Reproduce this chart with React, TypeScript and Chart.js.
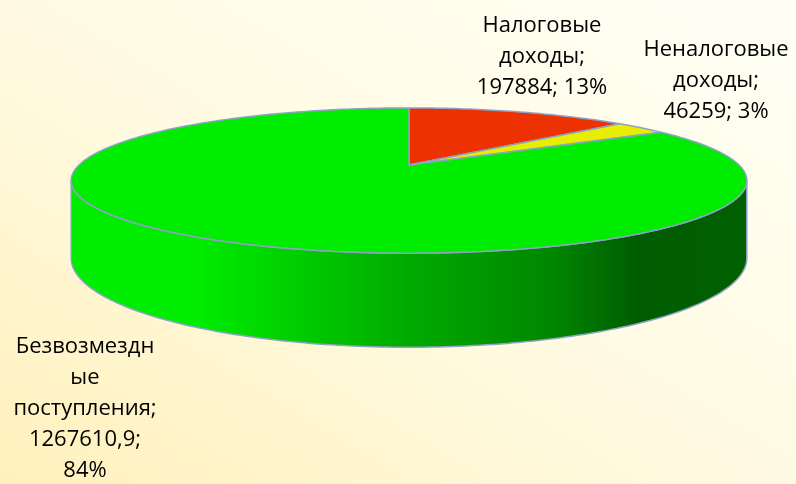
import React, { useEffect, useRef } from "react";
import { Chart, registerables } from "chart.js";

Chart.register(...registerables);

// ---------- data ----------
const categories = ["Налоговые доходы", "Неналоговые доходы", "Безвозмездные поступления"];
const categoryLines = [
  ["Налоговые", "доходы"],
  ["Неналоговые", "доходы"],
  ["Безвозмездн", "ые", "поступления"],
];
const values = [197884, 46259, 1267610.9];

// ---------- style ----------
const sliceColors = ["#EE3100", "#E8EE00", "#00EC00"];
const BORDER = "#8EA2C6";
const FONT = '22px "Open Sans"';
const LINE_H = 31;
const LABEL_MAX_W = 150;
const labelAnchors = [
  { x: 542, y: 32 },
  { x: 716, y: 56 },
  { x: 85, y: 353 },
];
const TILT = 0.21; // vertical squash of the top face
const PERSP = -0.214; // perspective strength (far side smaller)
const DEPTH = 0.224; // thickness relative to radius
const sideShade = [
  [0, 1],
  [0.19, 1],
  [0.5, 0.72],
  [0.71, 0.57],
  [0.84, 0.39],
  [1, 0.41],
];

function hexToRgb(h: string) {
  const n = parseInt(h.slice(1), 16);
  return [(n >> 16) & 255, (n >> 8) & 255, n & 255];
}

const pie3d = {
  id: "pie3d",
  beforeDatasetsDraw(chart: any) {
    const ctx: CanvasRenderingContext2D = chart.ctx;
    const meta = chart.getDatasetMeta(0);
    const arcs = meta.data;
    if (!arcs.length) return false;
    const cx = arcs[0].x;
    const cy = arcs[0].y;
    const R = arcs[0].outerRadius;
    const proj = (a: number, down: number) => {
      const u = Math.cos(a);
      const v = Math.sin(a);
      const w = 1 + PERSP * v;
      return { x: cx + (R * u) / w, y: cy + (R * TILT * v + down * R * DEPTH) / w };
    };
    const aR = Math.asin(-PERSP);
    const aL = Math.PI - aR;
    const colors = chart.data.datasets[0].backgroundColor;
    ctx.save();
    ctx.lineJoin = "round";
    ctx.lineWidth = 1.5;
    ctx.strokeStyle = BORDER;
    // side walls
    const xl = proj(aL, 0).x;
    const xr = proj(aR, 0).x;
    arcs.forEach((arc: any, i: number) => {
      const s = Math.max(arc.startAngle, aR);
      const e = Math.min(arc.endAngle, aL);
      if (e <= s) return;
      const [r, g, b] = hexToRgb(colors[i]);
      const grad = ctx.createLinearGradient(xl, 0, xr, 0);
      sideShade.forEach(([t, f]) =>
        grad.addColorStop(t, `rgb(${Math.round(r * f)},${Math.round(g * f)},${Math.round(b * f)})`)
      );
      const N = 160;
      ctx.beginPath();
      for (let k = 0; k <= N; k++) {
        const p = proj(s + ((e - s) * k) / N, 0);
        k ? ctx.lineTo(p.x, p.y) : ctx.moveTo(p.x, p.y);
      }
      for (let k = N; k >= 0; k--) {
        const p = proj(s + ((e - s) * k) / N, 1);
        ctx.lineTo(p.x, p.y);
      }
      ctx.closePath();
      ctx.fillStyle = grad;
      ctx.fill();
      ctx.stroke();
    });
    // top faces
    arcs.forEach((arc: any, i: number) => {
      const s = arc.startAngle;
      const e = arc.endAngle;
      const N = Math.max(8, Math.ceil(((e - s) / (2 * Math.PI)) * 360));
      ctx.beginPath();
      ctx.moveTo(cx, cy);
      for (let k = 0; k <= N; k++) {
        const p = proj(s + ((e - s) * k) / N, 0);
        ctx.lineTo(p.x, p.y);
      }
      ctx.closePath();
      ctx.fillStyle = colors[i];
      ctx.fill();
      ctx.stroke();
    });
    ctx.restore();
    return false;
  },
  afterDraw(chart: any) {
    const ctx: CanvasRenderingContext2D = chart.ctx;
    const vals: number[] = chart.data.datasets[0].data;
    const total = vals.reduce((a, b) => a + b, 0);
    ctx.save();
    ctx.font = FONT;
    ctx.fillStyle = "#000000";
    ctx.textAlign = "center";
    ctx.textBaseline = "alphabetic";
    vals.forEach((v, i) => {
      const name = categoryLines[i];
      const lines = [...name.slice(0, -1), name[name.length - 1] + ";"];
      const valStr = String(v).replace(".", ",");
      const pct = Math.round((v / total) * 100) + "%";
      const combined = valStr + "; " + pct;
      if (ctx.measureText(combined).width <= LABEL_MAX_W) lines.push(combined);
      else lines.push(valStr + ";", pct);
      const a = labelAnchors[i];
      lines.forEach((ln, k) => ctx.fillText(ln, a.x, a.y + k * LINE_H));
    });
    ctx.restore();
  },
};

export default function App() {
  const ref = useRef<HTMLCanvasElement>(null);
  useEffect(() => {
    document.body.style.margin = "0";
    const chart = new Chart(ref.current!, {
      type: "pie",
      data: {
        labels: categories,
        datasets: [
          {
            data: values,
            backgroundColor: sliceColors,
            borderColor: BORDER,
            borderWidth: 0,
          },
        ],
      },
      options: {
        animation: false,
        responsive: false,
        devicePixelRatio: 1,
        events: [],
        radius: 330,
        layout: { padding: { left: 22, right: 0, top: 0, bottom: 154 } },
        plugins: { legend: { display: false }, tooltip: { enabled: false } },
      } as any,
      plugins: [pie3d],
    });
    return () => chart.destroy();
  }, []);
  return (
    <div
      style={{
        position: "fixed",
        left: 0,
        top: 0,
        width: 796,
        height: 484,
        background: "linear-gradient(to top right, #FFF1BC 0%, #FFFAE0 45%, #FFFFF6 100%)",
      }}
    >
      <canvas ref={ref} width={796} height={484} style={{ display: "block" }} />
    </div>
  );
}
